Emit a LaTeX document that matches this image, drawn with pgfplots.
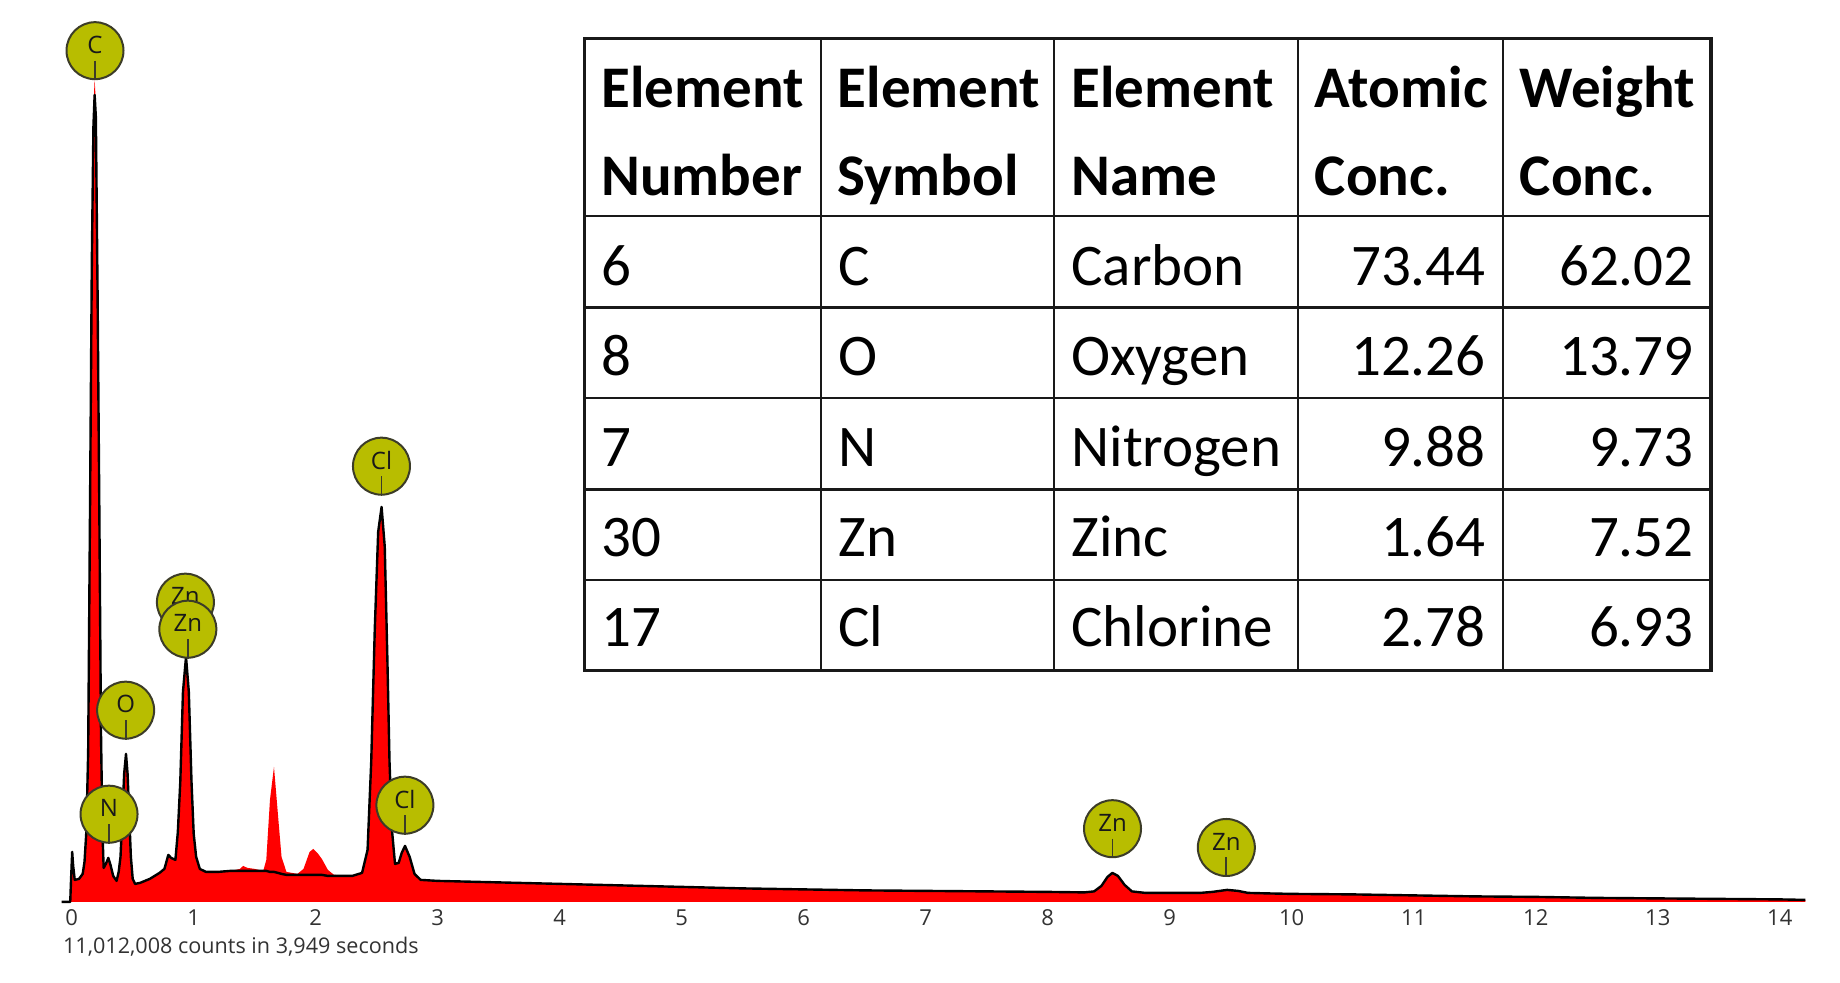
\documentclass[border=0pt]{standalone}
\usepackage{fontspec}
\setmainfont{Carlito}
\newfontfamily\uifont{Open Sans}
\usepackage{pgfplots}
\usepackage{pgfplotstable}
\pgfplotsset{compat=1.18}

\definecolor{spec}{RGB}{255,0,0}
\definecolor{lblfill}{RGB}{184,189,0}
\definecolor{lbldraw}{RGB}{60,60,40}
\definecolor{tickgray}{RGB}{50,50,50}
\definecolor{tablegray}{RGB}{25,25,25}

% energy (keV), red spectrum height, black overlay height (1 unit = 1 px of the original)
\pgfplotstableread{
kev    red   blk
-0.082 0     0
-0.012 0     0
-0.006 20    20
0.004  50    50
0.012  36    36
0.025  22    22
0.060  23    23
0.090  30    28
0.105  45    40
0.120  80    70
0.135  170   150
0.150  410   390
0.165  660   640
0.178  795   775
0.188  822   807
0.198  800   785
0.212  630   610
0.226  420   400
0.240  190   170
0.252  80    70
0.262  36    34
0.280  38    38
0.300  44    44
0.318  37    37
0.340  26    26
0.368  21    21
0.385  30    30
0.400  45    45
0.415  85    85
0.430  128   128
0.445  148   148
0.458  128   128
0.472  85    85
0.485  45    45
0.500  23    23
0.520  18    18
0.560  19    19
0.640  23    23
0.720  29    29
0.760  33    33
0.792  47    47
0.815  44    44
0.850  42    42
0.870  70    70
0.890  120   120
0.912  210   210
0.937  245   245
0.960  210   210
0.982  120   120
1.000  68    68
1.020  45    45
1.050  33    33
1.100  30    30
1.200  30    30
1.300  31    31
1.380  33    31
1.405  36    31
1.440  34    31
1.500  33    31
1.570  31    31
1.595  42    31
1.625  102   30
1.658  135   30
1.690  88    29
1.720  45    28
1.760  30    27
1.850  28    27
1.900  33    27
1.950  50    27
1.980  53    27
2.020  48    27
2.050  43    27
2.100  32    26
2.150  27    26
2.300  26    26
2.380  29    29
2.425  52    52
2.455  140   140
2.484  272   272
2.512  370   370
2.540  395   395
2.566  355   355
2.588  240   240
2.605  140   140
2.625  72    72
2.650  38    38
2.680  39    39
2.705  49    49
2.732  56    56
2.770  45    45
2.810  28    28
2.860  22    22
3.000  21    21
3.500  19.5  19.5
4.000  18    18
4.500  16.5  16.5
5.000  15    15
5.500  13.5  13.5
6.000  12.5  12.5
6.500  11.5  11.5
7.000  11    11
7.500  10.5  10.5
8.000  10    10
8.300  9.5   9.5
8.380  10.5  10.5
8.440  16    16
8.490  25    25
8.530  29    29
8.575  26    26
8.630  17    17
8.690  10.5  10.5
8.800  9     9
9.000  9     9
9.250  9     9
9.350  10    10
9.470  12    12
9.560  11    11
9.640  9     9
9.800  8.5   8.5
10.00  8     8
10.50  7.5   7.5
11.00  6.5   6.5
11.50  5.5   5.5
12.00  5     5
12.50  4     4
13.00  3.5   3.5
13.50  3     3
14.00  2.5   2.5
14.21  2     2
14.21  0     nan
}\spectrum

\tikzset{peak/.style={circle, fill=lblfill, draw=lbldraw, line width=1pt,
  minimum size=28.5pt, inner sep=0pt}}
\newcommand{\peaklabel}[3]{%
  \node[peak] (pk) at (axis cs:#1,#2) {};
  \node[inner sep=0pt, font=\uifont\fontsize{12}{14}\selectfont, text=black!90]
    at ([yshift=3pt]pk.center) {#3};
  \draw[lbldraw, line width=0.9pt] ([yshift=-5pt]pk.center) -- (pk.south);
}

\begin{document}
\begin{tikzpicture}
\begin{axis}[
  at={(0,0)}, anchor=south west,
  scale only axis, width=920pt, height=491pt,
  xmin=-0.5877, xmax=14.494, ymin=-80.3, ymax=901.7,
  axis line style={draw=none},
  ytick=\empty,
  xtick={0,...,14},
  major tick length=0pt,
  /pgf/number format/assume math mode=true,
  xticklabel style={font=\uifont\fontsize{11}{13}\selectfont, text=tickgray,
    anchor=base, yshift=28.15pt},
  clip=false,
]
\addplot[fill=spec, draw=none] table[x=kev, y=red] {\spectrum};
\addplot[black, line width=1.2pt, line join=round] table[x=kev, y=blk] {\spectrum};

\peaklabel{0.191}{851.2}{C}
\peaklabel{2.539}{435.7}{Cl}
\peaklabel{0.932}{299.7}{Zn}
\peaklabel{0.952}{272.7}{Zn}
\peaklabel{0.442}{191.7}{O}
\peaklabel{0.306}{87.7}{N}
\peaklabel{2.731}{96.7}{Cl}
\peaklabel{8.531}{73.2}{Zn}
\peaklabel{9.464}{54.4}{Zn}

\node[anchor=base west, inner sep=0pt, font=\uifont\fontsize{10.8}{13}\selectfont,
  text=tickgray] at (axis cs:-0.074,-52) {11,012,008 counts in 3,949 seconds};
\end{axis}

% composition table, coordinates in pixels of the original (y downwards)
\begin{scope}[x=0.5pt, y=-0.5pt, yshift=491pt,
  every node/.style={inner sep=0pt, font=\fontsize{29.5}{35}\selectfont}]
  \fill[white] (584.4,38.7) rectangle (1711,670);
  \foreach \cx in {821,1054,1298,1503}
    \draw[tablegray, line width=1.2pt] (\cx,38.7) -- (\cx,670);
  \foreach \ry in {216,307.5,397.8,489.4,579.7}
    \draw[tablegray, line width=1.2pt] (584.4,\ry) -- (1711,\ry);
  \draw[tablegray, line width=1.6pt] (584.4,38.7) rectangle (1711,670);

  \foreach \cx/\ta/\tb in {601/Element/Number, 837.5/Element/Symbol,
      1071/Element/Name, 1314.5/Atomic/Conc., 1519.5/Weight/Conc.} {
    \node[anchor=base west, font=\bfseries\fontsize{29.5}{35}\selectfont] at (\cx,107) {\ta};
    \node[anchor=base west, font=\bfseries\fontsize{29.5}{35}\selectfont] at (\cx,195) {\tb};
  }
  \foreach \by/\num/\sym/\name/\at/\wt in {
      285/6/C/Carbon/73.44/62.02,
      375.5/8/O/Oxygen/12.26/13.79,
      466/7/N/Nitrogen/9.88/9.73,
      556/30/Zn/Zinc/1.64/7.52,
      646/17/Cl/Chlorine/2.78/6.93} {
    \node[anchor=base west] at (601,\by) {\num};
    \node[anchor=base west] at (838,\by) {\sym};
    \node[anchor=base west] at (1071,\by) {\name};
    \node[anchor=base east] at (1486,\by) {\at};
    \node[anchor=base east] at (1694,\by) {\wt};
  }
\end{scope}
\end{tikzpicture}
\end{document}
